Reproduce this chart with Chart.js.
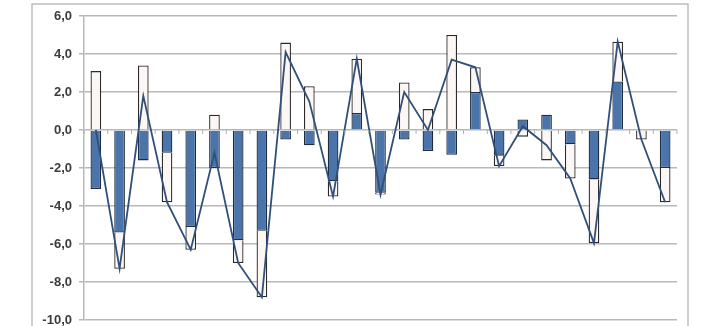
<!DOCTYPE html>
<html>
<head>
<meta charset="utf-8">
<script src="https://cdn.jsdelivr.net/npm/chart.js@4"></script>
<style>
  html, body { margin: 0; padding: 0; background: #fff; overflow: hidden; }
  #wrap { width: 712px; height: 345px; }
</style>
</head>
<body>
<div id="wrap"><canvas id="chart"></canvas></div>
<script>
// 25 periods, no labels shown on the x axis
var labels = ["1","2","3","4","5","6","7","8","9","10","11","12","13","14","15","16","17","18","19","20","21","22","23","24","25"];
// filled blue part
var bluePart = [-3.1, -5.4, -1.6, -1.2, -5.1, -2.0, -5.8, -5.3, -0.5, -0.8, -2.7, 0.9, -3.3, -0.5, -1.1, -1.3, 2.0, -1.35, 0.55, 0.8, -0.75, -2.6, 2.55, 0, -2.0];
// white outlined part
var whitePart = [3.1, -1.9, 3.4, -2.6, -1.2, 0.8, -1.2, -3.5, 4.6, 2.3, -0.8, 2.85, -0.1, 2.5, 1.1, 5.0, 1.3, -0.55, -0.35, -1.6, -1.8, -3.35, 2.1, -0.5, -1.8];
// line (total)
var totalLine = [0.0, -7.3, 1.8, -3.8, -6.3, -1.2, -7.0, -8.8, 4.1, 1.5, -3.5, 3.75, -3.4, 2.0, 0.0, 3.7, 3.3, -1.9, 0.2, -0.8, -2.55, -5.95, 4.65, -0.5, -3.8];
var yTicks = [6, 4, 2, 0, -2, -4, -6, -8, -10];

var frame = {
    id: "frame",
    beforeDraw: function (chart) {
        var ctx = chart.ctx;
        ctx.save();
        ctx.strokeStyle = "#bdbdbd";
        ctx.lineWidth = 1.5;
        ctx.strokeRect(32, 4, 656, 400);
        ctx.restore();
    },
    afterDatasetsDraw: function (chart) {
        // small category ticks on the zero line
        var ctx = chart.ctx, x = chart.scales.x, y = chart.scales.y;
        var y0 = y.getPixelForValue(0);
        ctx.save();
        ctx.strokeStyle = "#b0b0b0";
        ctx.lineWidth = 1;
        for (var i = 0; i <= labels.length; i++) {
            var px = x.getPixelForValue(i - 0.5);
            ctx.beginPath();
            ctx.moveTo(px, y0);
            ctx.lineTo(px, y0 + 4);
            ctx.stroke();
        }
        ctx.restore();
    }
};

new Chart(document.getElementById("chart"), {
    type: "bar",
    data: {
        labels: labels,
        datasets: [
            {
                type: "line",
                data: totalLine,
                stack: "total",
                borderColor: "#30507a",
                borderWidth: 1.8,
                pointRadius: 0,
                tension: 0,
                order: 0
            },
            {
                data: bluePart,
                stack: "bars",
                backgroundColor: "#4b74aa",
                borderColor: "#1f2d42",
                borderWidth: 1.3,
                barPercentage: 0.45,
                categoryPercentage: 1,
                order: 1
            },
            {
                data: whitePart,
                stack: "bars",
                backgroundColor: "#fcf7f5",
                borderColor: "#2a2a2a",
                borderWidth: 1.3,
                barPercentage: 0.45,
                categoryPercentage: 1,
                order: 1
            }
        ]
    },
    plugins: [frame],
    options: {
        responsive: true,
        maintainAspectRatio: false,
        animation: false,
        layout: { padding: { left: 0, right: 35, top: 16, bottom: 25 } },
        plugins: {
            legend: { display: false },
            tooltip: { enabled: false }
        },
        scales: {
            x: {
                stacked: true,
                display: false
            },
            y: {
                stacked: true,
                min: -10,
                max: 6,
                afterFit: function (scale) { scale.width = 84; },
                afterBuildTicks: function (scale) {
                    scale.ticks = yTicks.map(function (v) { return { value: v }; });
                },
                ticks: {
                    padding: 7,
                    color: "#3c3c3c",
                    font: { family: "Liberation Sans", size: 13, weight: "bold" },
                    callback: function (v) { return v.toFixed(1).replace(".", ","); }
                },
                grid: {
                    color: "#b8b8b8",
                    lineWidth: 1.5,
                    tickLength: 5
                },
                border: { color: "#b8b8b8", width: 1.5 }
            }
        }
    }
});
</script>
</body>
</html>
